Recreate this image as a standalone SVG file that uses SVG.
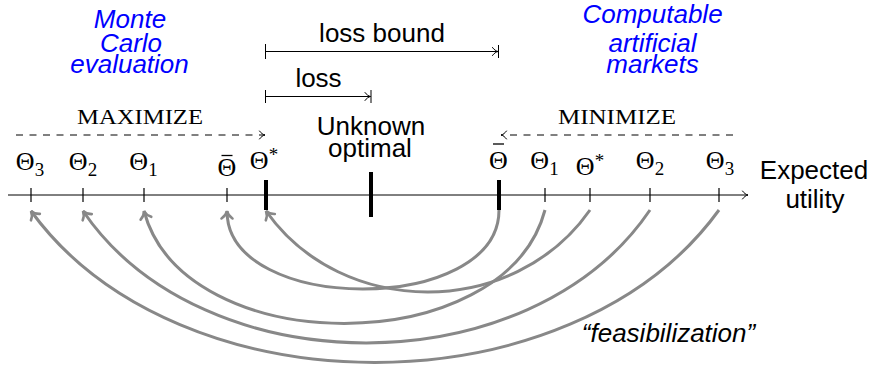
<svg xmlns="http://www.w3.org/2000/svg" width="874" height="370" viewBox="0 0 874 370">
<style>
.sans{font-family:"Liberation Sans",Arial,sans-serif;font-size:26px;fill:#000;text-anchor:middle}
.blue{font-family:"Liberation Sans",Arial,sans-serif;font-size:26px;font-style:italic;fill:#0000ff;text-anchor:middle}
.math{font-family:"Liberation Serif","DejaVu Serif",serif;font-size:26px;fill:#000;text-anchor:middle}
.sc{font-family:"Liberation Serif",serif;font-size:21px;fill:#000;text-anchor:middle}
.sub{font-size:19px}
.thin{stroke:#000;stroke-width:1;fill:none}
.bar{stroke:#000;stroke-width:1.3}
.tick{stroke:#000;stroke-width:1.2}
.thick{stroke:#000;stroke-width:4}
.dash{stroke:#000;stroke-width:1;stroke-dasharray:7 6.5;fill:none}
.curve{stroke:#888;stroke-width:3;fill:none}
</style>
<defs>
<marker id="tipK" markerUnits="userSpaceOnUse" viewBox="-8 -6 10 12" refX="0" refY="0" markerWidth="10" markerHeight="12" orient="auto" overflow="visible">
<path d="M-5.5,-4 C-4,-1.8 -1.8,-0.4 0,0 C-1.8,0.4 -4,1.8 -5.5,4" fill="none" stroke="#000" stroke-width="1" stroke-linecap="round"/>
</marker>
<marker id="tipG" markerUnits="userSpaceOnUse" viewBox="-10 -8 12 16" refX="0" refY="0" markerWidth="12" markerHeight="16" orient="auto" overflow="visible">
<path d="M-7.5,-5.5 C-5.5,-2.5 -2.5,-0.6 0,0 C-2.5,0.6 -5.5,2.5 -7.5,5.5" fill="none" stroke="#888" stroke-width="2.6" stroke-linecap="round"/>
</marker>
</defs>

<g id="connectors">
<line class="thin" x1="8" y1="195" x2="748" y2="195" stroke="#333" marker-end="url(#tipK)"/>
<line class="thin" x1="265.5" y1="51.5" x2="498" y2="51.5" marker-end="url(#tipK)"/>
<line class="thin" x1="265.5" y1="44" x2="265.5" y2="59"/>
<line class="thin" x1="498.5" y1="45" x2="498.5" y2="58"/>
<line class="thin" x1="265.5" y1="96.5" x2="370.5" y2="96.5" marker-end="url(#tipK)"/>
<line class="thin" x1="265.5" y1="90" x2="265.5" y2="103"/>
<line class="thin" x1="371" y1="90" x2="371" y2="103"/>
<line class="dash" x1="16" y1="135" x2="265" y2="135" marker-end="url(#tipK)"/>
<line class="dash" x1="733" y1="135" x2="501" y2="135" marker-end="url(#tipK)"/>
<path class="curve" d="M499,210 C499,315 227,315 227,211" marker-end="url(#tipG)"/>
<path class="curve" d="M590,210 C514,319 342,319 266,211" marker-end="url(#tipG)"/>
<path class="curve" d="M545,210 C505,361 184,361 144,211" marker-end="url(#tipG)"/>
<path class="curve" d="M650,210 C530,387 203,387 83,211" marker-end="url(#tipG)"/>
<path class="curve" d="M719,210 C572,413 178,413 31,211" marker-end="url(#tipG)"/>
</g>

<g id="ticks">
<line class="tick" x1="31" y1="188" x2="31" y2="202"/>
<line class="tick" x1="83" y1="188" x2="83" y2="202"/>
<line class="tick" x1="144" y1="188" x2="144" y2="202"/>
<line class="tick" x1="227" y1="188" x2="227" y2="202"/>
<line class="thick" x1="266" y1="180" x2="266" y2="210"/>
<line class="thick" x1="371" y1="172" x2="371" y2="217"/>
<line class="thick" x1="499" y1="180" x2="499" y2="210"/>
<line class="tick" x1="545" y1="188" x2="545" y2="202"/>
<line class="tick" x1="590" y1="188" x2="590" y2="202"/>
<line class="tick" x1="650" y1="188" x2="650" y2="202"/>
<line class="tick" x1="719" y1="188" x2="719" y2="202"/>
</g>

<g id="node-left-theta3"><text class="math" x="30" y="170">Θ<tspan class="sub" dy="6">3</tspan></text></g>
<g id="node-left-theta2"><text class="math" x="83" y="170">Θ<tspan class="sub" dy="6">2</tspan></text></g>
<g id="node-left-theta1"><text class="math" x="143.5" y="170">Θ<tspan class="sub" dy="6">1</tspan></text></g>
<g id="node-left-thetabar"><text class="math" x="227" y="176">Θ</text><line class="bar" x1="221.5" y1="155.5" x2="232.5" y2="155.5"/></g>
<g id="node-left-thetastar"><text class="math" x="264" y="169">Θ<tspan class="sub" dy="-8">*</tspan></text></g>
<g id="node-unknown-optimal"><text class="sans" x="371" y="135">Unknown</text><text class="sans" x="370" y="157">optimal</text></g>
<g id="node-right-thetabar"><text class="math" x="498.5" y="169">Θ</text><line class="bar" x1="493" y1="144" x2="504" y2="144"/></g>
<g id="node-right-theta1"><text class="math" x="544.5" y="169">Θ<tspan class="sub" dy="6">1</tspan></text></g>
<g id="node-right-thetastar"><text class="math" x="590" y="175">Θ<tspan class="sub" dy="-8">*</tspan></text></g>
<g id="node-right-theta2"><text class="math" x="650" y="169">Θ<tspan class="sub" dy="6">2</tspan></text></g>
<g id="node-right-theta3"><text class="math" x="720" y="169">Θ<tspan class="sub" dy="6">3</tspan></text></g>
<g id="node-expected-utility"><text class="sans" x="814" y="179">Expected</text><text class="sans" x="815" y="208">utility</text></g>

<g id="node-loss-bound"><text class="sans" x="382" y="42">loss bound</text></g>
<g id="node-loss"><text class="sans" x="318.5" y="87">loss</text></g>
<g id="node-monte-carlo"><text class="blue" x="130" y="28">Monte</text><text class="blue" x="131" y="52">Carlo</text><text class="blue" x="129.5" y="73">evaluation</text></g>
<g id="node-computable"><text class="blue" x="652.5" y="23">Computable</text><text class="blue" x="652.5" y="52">artificial</text><text class="blue" x="652.5" y="73">markets</text></g>
<g id="node-maximize"><text class="sc" x="140" y="124" textLength="126" lengthAdjust="spacingAndGlyphs">MAXIMIZE</text></g>
<g id="node-minimize"><text class="sc" x="617" y="124" textLength="118" lengthAdjust="spacingAndGlyphs">MINIMIZE</text></g>
<g id="node-feasibilization"><text class="blue" style="fill:#000" x="668.5" y="342">“feasibilization”</text></g>
</svg>
